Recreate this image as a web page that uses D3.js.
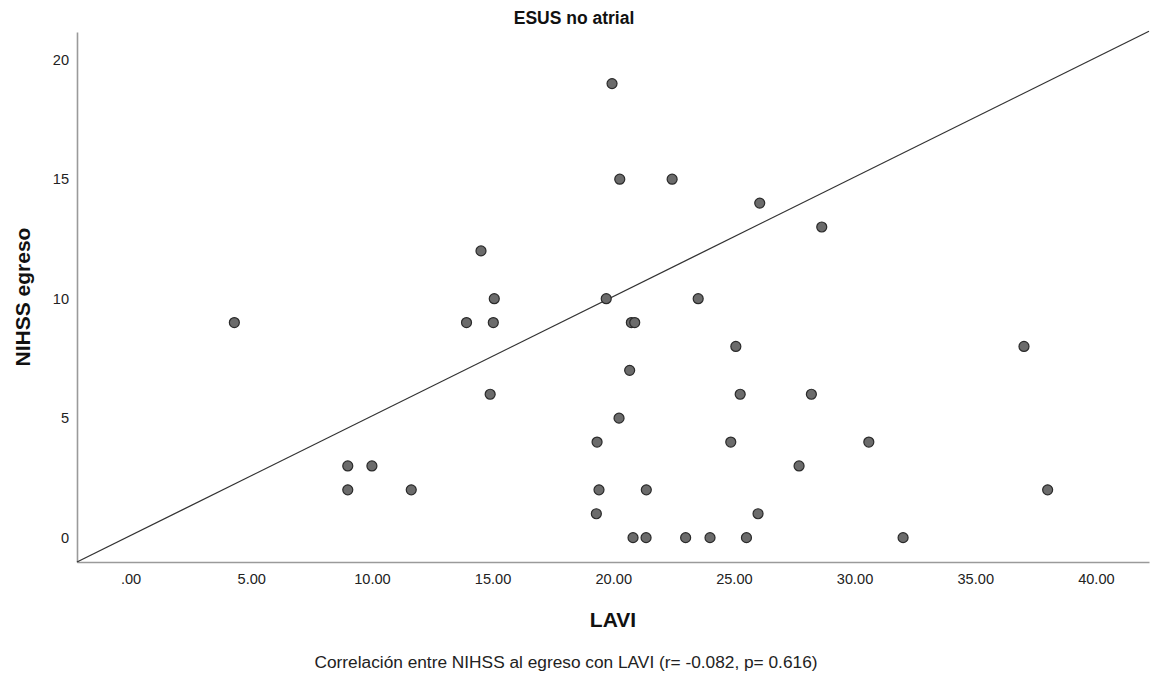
<!DOCTYPE html>
<html>
<head>
<meta charset="utf-8">
<script src="https://cdn.jsdelivr.net/npm/d3@7"></script>
<style>
  body { margin: 0; background: #fff; }
  text { font-family: "Liberation Sans", Arial, sans-serif; }
</style>
</head>
<body>
<svg id="chart" width="1152" height="678"></svg>
<script>
// LAVI vs NIHSS egreso
let lavi = [4.3, 9.0, 9.0, 10.0, 11.63, 13.92, 14.52, 15.07, 15.03, 14.9,
    19.95, 20.27, 22.44, 19.71, 20.75, 20.89, 20.68, 20.24, 19.33, 19.41,
    19.3, 20.82, 21.37, 21.36, 23.0, 24.01, 23.52, 25.08, 25.26, 24.87,
    25.52, 26.0, 26.07, 28.64, 27.7, 28.21, 30.59, 32.01, 37.02, 38.0]
let nihss = [9, 3, 2, 3, 2, 9, 12, 10, 9, 6,
    19, 15, 15, 10, 9, 9, 7, 5, 4, 2,
    1, 0, 2, 0, 0, 0, 10, 8, 6, 4,
    0, 1, 14, 13, 3, 6, 4, 0, 8, 2]
let xTicks = [0, 5, 10, 15, 20, 25, 30, 35, 40]
let yTicks = [0, 5, 10, 15, 20]
let lineCoef = [0.09, 0.5] // intercept, slope of the drawn reference line

let title = "ESUS no atrial"
let xLabel = "LAVI"
let yLabel = "NIHSS egreso"
let caption = "Correlación entre NIHSS al egreso con LAVI (r= -0.082, p= 0.616)"

const svg = d3.select("#chart")
const x = d3.scaleLinear().domain([-2.22, 42.2]).range([77, 1149])
const y = d3.scaleLinear().domain([-1.02, 21.16]).range([562, 32])

// axes, no tick marks
let xa = svg.append("g").attr("transform", `translate(0,${y.range()[0]})`)
    .call(d3.axisBottom(x).tickValues(xTicks).tickSize(0).tickPadding(12)
        .tickFormat(d => d == 0 ? ".00" : d3.format(".2f")(d)))
let ya = svg.append("g").attr("transform", `translate(${x.range()[0]},0)`)
    .call(d3.axisLeft(y).tickValues(yTicks).tickSize(0).tickPadding(8))
;[xa, ya].forEach(a => {
    a.select(".domain").attr("stroke", "#9a9a9a").attr("stroke-width", 1.6)
    a.selectAll("text").attr("font-size", 14.6).attr("fill", "#222")
        .attr("font-family", "Liberation Sans, Arial, sans-serif")
})

// reference line across the plot
let xd = x.domain()
svg.append("line")
    .attr("x1", x(xd[0])).attr("y1", y(lineCoef[0] + lineCoef[1] * xd[0]))
    .attr("x2", x(xd[1])).attr("y2", y(lineCoef[0] + lineCoef[1] * xd[1]))
    .attr("stroke", "#333").attr("stroke-width", 1.3)

let pts = lavi.map((v, i) => ({x: v, y: nihss[i]}))
svg.append("g").selectAll("circle").data(pts).join("circle")
    .attr("cx", d => x(d.x)).attr("cy", d => y(d.y)).attr("r", 5)
    .attr("fill", "#6b6b6b").attr("stroke", "#2a2a2a").attr("stroke-width", 1.2)

svg.append("text").attr("x", 574).attr("y", 23.5).attr("text-anchor", "middle")
    .attr("font-size", 17.5).attr("font-weight", "bold").attr("fill", "#111").text(title)
svg.append("text").attr("x", 613).attr("y", 627).attr("text-anchor", "middle")
    .attr("font-size", 21).attr("font-weight", "bold").attr("fill", "#111").text(xLabel)
svg.append("text").attr("transform", "translate(30,297) rotate(-90)").attr("text-anchor", "middle")
    .attr("font-size", 21).attr("font-weight", "bold").attr("fill", "#111").text(yLabel)
svg.append("text").attr("x", 566).attr("y", 668).attr("text-anchor", "middle")
    .attr("font-size", 17.3).attr("fill", "#222").text(caption)
</script>
</body>
</html>
